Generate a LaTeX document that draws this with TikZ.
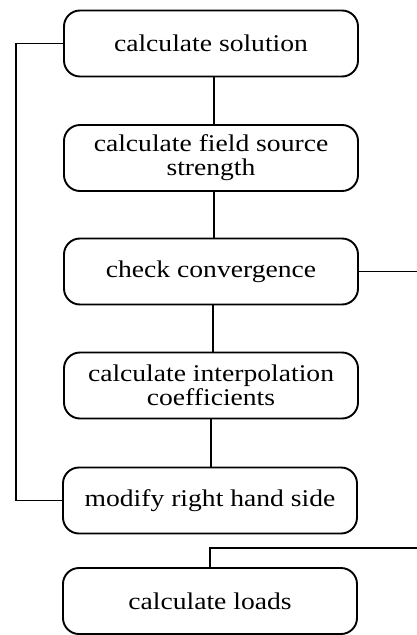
\documentclass[tikz,border=0pt]{standalone}
\usepackage{fontspec}
\setmainfont{Liberation Serif}[FakeStretch=1.15]
\begin{document}
\begin{tikzpicture}[x=1pt,y=-1pt,
  stepbox/.style={draw, line width=1.9pt, rounded corners=16pt, minimum width=294pt, minimum height=66pt, align=center, inner sep=2pt, font=\fontsize{24}{24}\selectfont},
  conn/.style={line width=1.9pt}]
\useasboundingbox (0,0) rectangle (417,635);
\node[stepbox] (b1) at (211,43.5) {calculate solution};
\node[stepbox] (b2) at (211,158) {calculate field source\\strength};
\node[stepbox] (b3) at (211,271.5) {check convergence};
\node[stepbox] (b4) at (211,385.5) {calculate interpolation\\coefficients};
\node[stepbox] (b5) at (210,500.5) {modify right hand side};
\node[stepbox] (b6) at (210,601) {calculate loads};
\coordinate (L) at (16,0);
\coordinate (R3) at (417,271.5);
\coordinate (R6) at (417,548);
\draw[conn] ([xshift=3pt]b1.south) -- ([xshift=3pt]b2.north);
\draw[conn] ([xshift=3pt]b2.south) -- ([xshift=3pt]b3.north);
\draw[conn] ([xshift=2pt]b3.south) -- ([xshift=2pt]b4.north);
\draw[conn] (b4.south) -- (b4.south |- b5.north);
\draw[conn] (b5.west) -| (L |- b1.west) -- (b1.west);
\draw[conn] (b3.east) -- (R3);
\draw[conn] (R6) -| (b6.north);
\end{tikzpicture}
\end{document}
